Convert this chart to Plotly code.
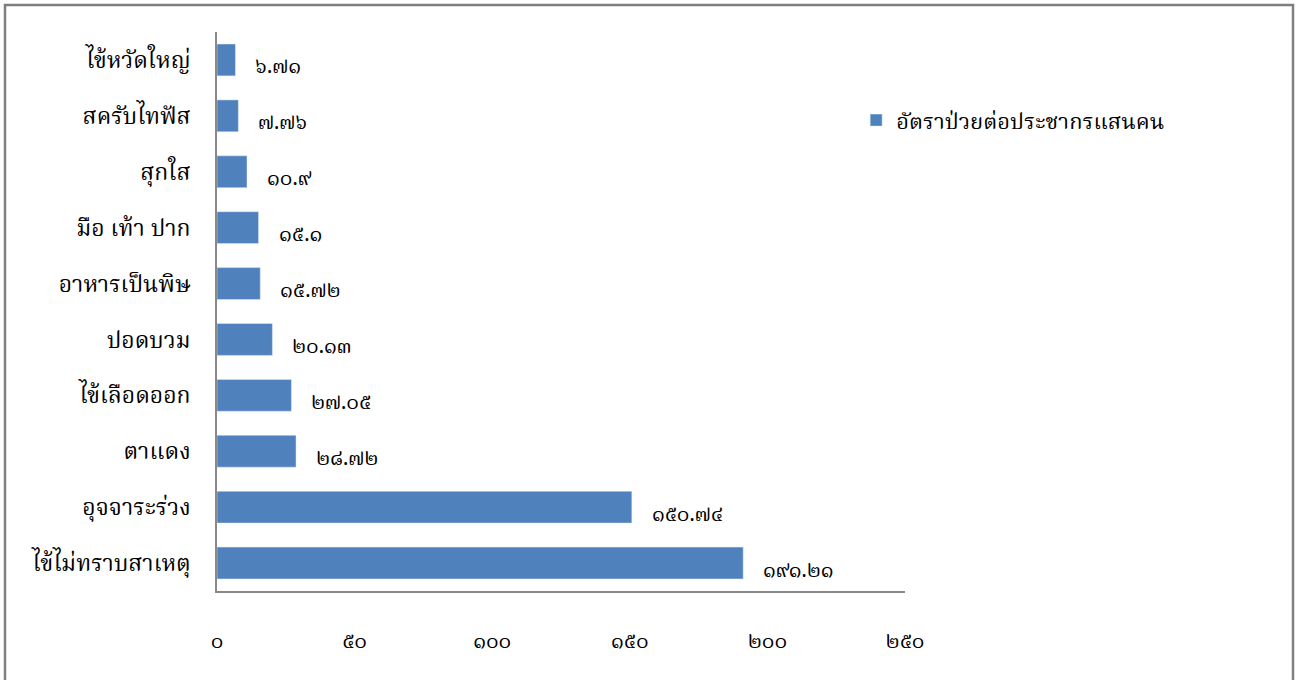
import plotly.graph_objects as go

categories = ["ไข้ไม่ทราบสาเหตุ", "อุจจาระร่วง", "ตาแดง", "ไข้เลือดออก", "ปอดบวม",
              "อาหารเป็นพิษ", "มือ เท้า ปาก", "สุกใส", "สครับไทฟัส", "ไข้หวัดใหญ่"]
values = [191.21, 150.74, 28.72, 27.05, 20.13, 15.72, 15.1, 10.9, 7.76, 6.71]
value_labels = ["๑๙๑.๒๑", "๑๕๐.๗๔", "๒๘.๗๒", "๒๗.๐๕", "๒๐.๑๓",
                "๑๕.๗๒", "๑๕.๑", "๑๐.๙", "๗.๗๖", "๖.๗๑"]
tick_values = [0, 50, 100, 150, 200, 250]
tick_labels = ["๐", "๕๐", "๑๐๐", "๑๕๐", "๒๐๐", "๒๕๐"]
series_name = "อัตราป่วยต่อประชากรแสนคน"

FONT = "Noto Serif Thai, Noto Sans Thai, serif"

fig = go.Figure()
fig.add_trace(go.Bar(
    y=categories, x=values, orientation="h", name=series_name,
    marker=dict(color="#4F81BD"), width=0.57, showlegend=True,
))

for c, v, t in zip(categories, values, value_labels):
    fig.add_annotation(x=v, y=c, text=t, showarrow=False, xanchor="left",
                       xshift=18, yshift=-8, font=dict(size=21, color="#000", family=FONT))

fig.update_layout(
    width=1299, height=680,
    margin=dict(l=217, r=394, t=32, b=89),
    paper_bgcolor="white", plot_bgcolor="white",
    font=dict(family=FONT, color="#000"),
    showlegend=True,
    legend=dict(x=0.929, y=0.842, xanchor="left", yanchor="middle",
                font=dict(size=22, color="#000", family=FONT),
                bgcolor="rgba(0,0,0,0)"),
    xaxis=dict(range=[0, 250], tickvals=tick_values, ticktext=tick_labels,
               showgrid=False, zeroline=False, showline=True, linecolor="#888",
               linewidth=1.5, ticks="", ticklabelstandoff=30,
               tickfont=dict(size=21, color="#000")),
    yaxis=dict(showgrid=False, zeroline=False, showline=True, linecolor="#888",
               linewidth=1.5, ticks="", ticklabelstandoff=20,
               tickfont=dict(size=23, color="#000")),
    bargap=0.43,
)

fig.add_shape(type="rect", xref="paper", yref="paper",
              x0=(5 - 217) / 688, x1=(1293 - 217) / 688,
              y0=(591 - 690) / 559, y1=(591 - 5) / 559,
              line=dict(color="#7f7f7f", width=2.5), fillcolor="rgba(0,0,0,0)")

fig.write_html("out.html", config={"displayModeBar": False},
               post_script="document.body.style.margin='0';")
